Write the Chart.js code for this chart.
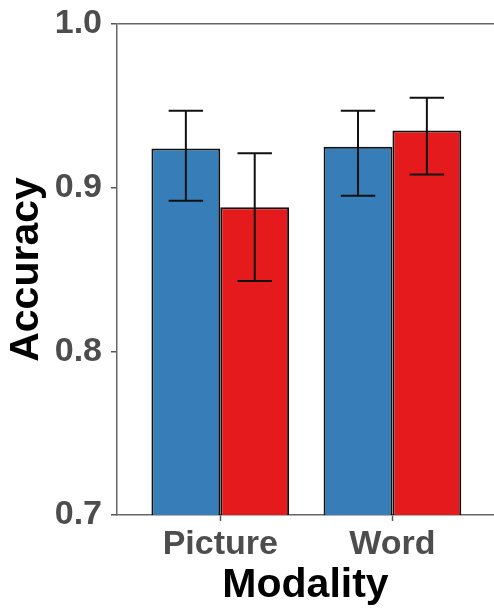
<!DOCTYPE html>
<html>
<head>
<meta charset="utf-8">
<script src="https://cdn.jsdelivr.net/npm/chart.js@4.4.1/dist/chart.umd.min.js"></script>
<style>
  html, body { margin: 0; padding: 0; background: #ffffff; }
  #wrap { width: 494px; height: 610px; position: relative; }
</style>
</head>
<body>
<div id="wrap"><canvas id="c" width="494" height="610"></canvas></div>
<script>
// ---- data ----
const categories = ['Picture', 'Word'];
const seriesNames = ['Blue', 'Red'];
const blueMeans = [0.924, 0.925];
const redMeans  = [0.888, 0.935];
const blueLower = [0.892, 0.895];
const blueUpper = [0.947, 0.947];
const redLower  = [0.843, 0.908];
const redUpper  = [0.921, 0.955];
const yTicks = [0.7, 0.8, 0.9, 1.0];

const toPoints = arr => arr.map((v, i) => ({ x: i + 1, y: v }));
const errors = [
  { lower: blueLower, upper: blueUpper },
  { lower: redLower, upper: redUpper }
];

const FONT = "'Liberation Sans', Arial, sans-serif";

const errorBarPlugin = {
  id: 'errorBars',
  afterDatasetsDraw(chart) {
    const ctx = chart.ctx;
    const xs = chart.scales.x, ys = chart.scales.y;
    const half = (xs.getPixelForValue(1.1) - xs.getPixelForValue(1.0));
    ctx.save();
    ctx.strokeStyle = '#111111';
    ctx.lineWidth = 2;
    chart.data.datasets.forEach((ds, di) => {
      const meta = chart.getDatasetMeta(di);
      meta.data.forEach((bar, i) => {
        const x = bar.x;
        const yt = ys.getPixelForValue(errors[di].upper[i]);
        const yb = ys.getPixelForValue(errors[di].lower[i]);
        ctx.beginPath();
        ctx.moveTo(x, yt); ctx.lineTo(x, yb);
        ctx.moveTo(x - half, yt); ctx.lineTo(x + half, yt);
        ctx.moveTo(x - half, yb); ctx.lineTo(x + half, yb);
        ctx.stroke();
      });
    });
    ctx.restore();
  }
};

new Chart(document.getElementById('c'), {
  type: 'bar',
  data: {
    datasets: [
      { label: seriesNames[0], data: toPoints(blueMeans), backgroundColor: '#377EB8',
        borderColor: '#111111', borderWidth: 2, borderSkipped: false },
      { label: seriesNames[1], data: toPoints(redMeans), backgroundColor: '#E41A1C',
        borderColor: '#111111', borderWidth: 2, borderSkipped: false }
    ]
  },
  options: {
    responsive: false,
    animation: false,
    devicePixelRatio: 1,
    layout: { padding: { top: 24, right: 0, bottom: 0, left: 0 } },
    datasets: { bar: { categoryPercentage: 0.8, barPercentage: 1.0, grouped: true } },
    plugins: { legend: { display: false }, tooltip: { enabled: false } },
    scales: {
      x: {
        type: 'linear',
        offset: false,
        min: 0.4,
        max: 2.59,
        afterBuildTicks: s => { s.ticks = categories.map((c, i) => ({ value: i + 1 })); },
        afterFit: s => { s.height = 95; s.paddingLeft = 0; s.paddingRight = 0; },
        ticks: {
          callback: v => categories[Math.round(v) - 1],
          color: '#4D4D4D',
          font: { family: FONT, size: 34, weight: 'bold' },
          padding: 3,
          autoSkip: false,
          maxRotation: 0
        },
        grid: { offset: false, drawOnChartArea: false, tickLength: 6, tickColor: '#555555', tickWidth: 1.5 },
        border: { display: true, color: '#666666', width: 1.5 },
        title: {
          display: true, text: 'Modality', color: '#000000',
          font: { family: FONT, size: 41, weight: 'bold' },
          padding: { top: 0, bottom: 0 }
        }
      },
      y: {
        min: 0.7,
        max: 1.0,
        afterBuildTicks: s => { s.ticks = yTicks.map(v => ({ value: v })); },
        afterFit: s => { s.width = 117; s.paddingTop = 0; s.paddingBottom = 0; },
        ticks: {
          callback: v => v.toFixed(1),
          color: '#4D4D4D',
          font: { family: FONT, size: 34, weight: 'bold' },
          padding: 9
        },
        grid: {
          color: c => (c.tick && Math.abs(c.tick.value - 1.0) < 1e-9) ? '#666666' : 'rgba(0,0,0,0)',
          lineWidth: 1.5,
          tickLength: 6, tickColor: '#555555', tickWidth: 1.5
        },
        border: { display: true, color: '#666666', width: 1.5 },
        title: {
          display: true, text: 'Accuracy', color: '#000000',
          font: { family: FONT, size: 41, weight: 'bold' },
          padding: { top: 2, bottom: 0 }
        }
      }
    }
  },
  plugins: [errorBarPlugin]
});
</script>
</body>
</html>
